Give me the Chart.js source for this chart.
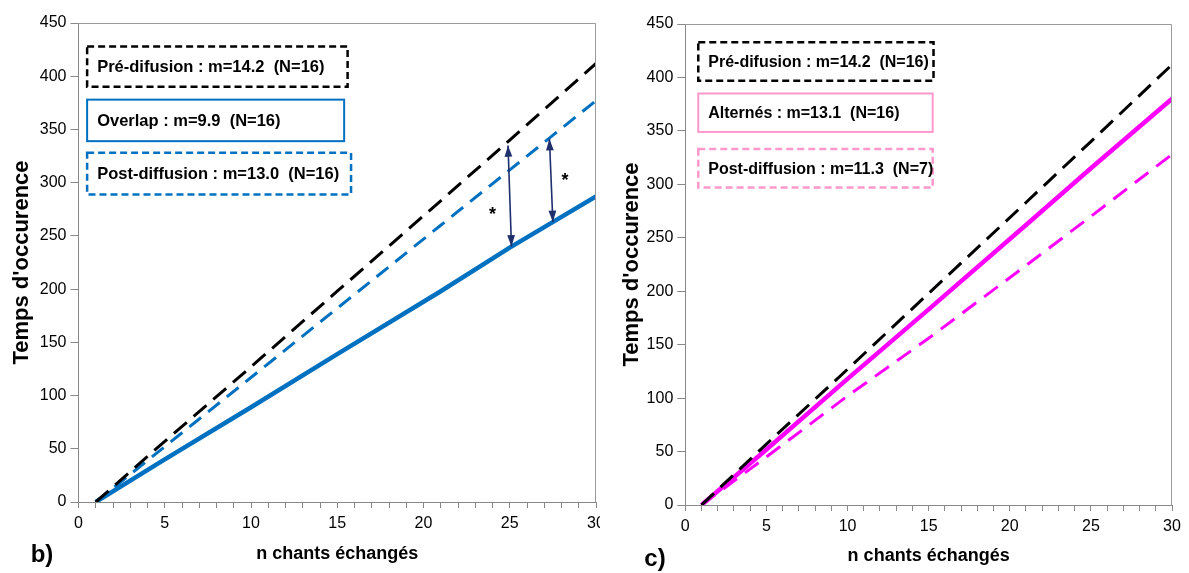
<!DOCTYPE html>
<html>
<head>
<meta charset="utf-8" />
<title>Temps d'occurence</title>
<script src="https://cdn.jsdelivr.net/npm/chart.js/dist/chart.umd.js"></script>
<style>
    body { margin: 0; background: #fff; }
    .panel { position: absolute; top: 0; height: 573px; }
    #left { left: 0; width: 600px; }
    #right { left: 600px; width: 589px; }
</style>
</head>
<body>
<div id="left" class="panel"><canvas id="chartB"></canvas></div>
<div id="right" class="panel"><canvas id="chartC"></canvas></div>
<script>
// values
var nLeft = [1, 5, 10, 15, 21, 25, 30];
var preLeft = [0, 57, 127, 198, 283, 340, 412];
var postLeft = [0, 52, 117, 182, 260, 312, 377];
var overlapLeft = [0, 40, 89, 139, 198, 239, 287];

var nRight = [1, 5, 10, 15, 21, 25, 30];
var preRight = [0, 57, 127, 198, 283, 340, 412];
var alternesRight = [0, 52, 118, 183, 262, 315, 380];
var postRight = [0, 45, 102, 156, 224, 270, 328];

var yTicks = [0, 50, 100, 150, 200, 250, 300, 350, 400, 450];
var xLabels = [0, 5, 10, 15, 20, 25, 30];

function pts(xs, ys) {
    return xs.map(function (x, i) { return { x: x, y: ys[i] }; });
}

var BLUE = '#0070C0', MAGENTA = '#FF00FF', PINK = '#FF99CC', NAVY = '#1F2F6E';

// boxes, arrows and panel letter drawn over the plot
var decor = {
    id: 'decor',
    afterDraw: function (chart, args, o) {
        var ctx = chart.ctx, a = chart.chartArea;
        var xs = chart.scales.x, ys = chart.scales.y;
        ctx.save();
        ctx.strokeStyle = '#9a9a9a';
        ctx.lineWidth = 1;
        ctx.beginPath();
        ctx.moveTo(a.left, a.top + 0.5);
        ctx.lineTo(a.right - 0.5, a.top + 0.5);
        ctx.lineTo(a.right - 0.5, a.bottom);
        ctx.stroke();

        o.boxes.forEach(function (b) {
            var x1 = xs.getPixelForValue(b.x0), x2 = xs.getPixelForValue(b.x1);
            var y1 = ys.getPixelForValue(b.y1), y2 = ys.getPixelForValue(b.y0);
            ctx.fillStyle = '#fff';
            ctx.fillRect(x1, y1, x2 - x1, y2 - y1);
            ctx.strokeStyle = b.color;
            ctx.lineWidth = b.dash ? 2.5 : 2;
            ctx.setLineDash(b.dash ? [7, 4] : []);
            ctx.strokeRect(x1, y1, x2 - x1, y2 - y1);
            ctx.setLineDash([]);
            ctx.fillStyle = '#000';
            ctx.font = 'bold ' + o.boxFont + 'px "Liberation Sans", Arial, sans-serif';
            ctx.textBaseline = 'middle';
            ctx.textAlign = 'left';
            ctx.fillText(b.text, x1 + o.textInset, (y1 + y2) / 2 + 1);
        });

        (o.arrows || []).forEach(function (ar) {
            var px1 = xs.getPixelForValue(ar[0]), py1 = ys.getPixelForValue(ar[1]);
            var px2 = xs.getPixelForValue(ar[2]), py2 = ys.getPixelForValue(ar[3]);
            ctx.strokeStyle = NAVY;
            ctx.fillStyle = NAVY;
            ctx.lineWidth = 1.6;
            ctx.beginPath();
            ctx.moveTo(px1, py1);
            ctx.lineTo(px2, py2);
            ctx.stroke();
            [[px1, py1, px2, py2], [px2, py2, px1, py1]].forEach(function (p) {
                var ang = Math.atan2(p[1] - p[3], p[0] - p[2]);
                ctx.beginPath();
                ctx.moveTo(p[0], p[1]);
                ctx.lineTo(p[0] - 12 * Math.cos(ang - 0.33), p[1] - 12 * Math.sin(ang - 0.33));
                ctx.lineTo(p[0] - 12 * Math.cos(ang + 0.33), p[1] - 12 * Math.sin(ang + 0.33));
                ctx.closePath();
                ctx.fill();
            });
        });

        ctx.fillStyle = '#000';
        ctx.font = 'bold 18px "Liberation Sans", Arial, sans-serif';
        ctx.textAlign = 'center';
        ctx.textBaseline = 'middle';
        (o.stars || []).forEach(function (s) {
            ctx.fillText('*', xs.getPixelForValue(s[0]), ys.getPixelForValue(s[1]));
        });

        ctx.font = 'bold 24px "Liberation Sans", Arial, sans-serif';
        ctx.fillText(o.letter, o.letterX, o.letterY);
        ctx.restore();
    }
};

function makeChart(id, datasets, L) {
    return new Chart(document.getElementById(id), {
        type: 'line',
        data: { datasets: datasets },
        plugins: [decor],
        options: {
            responsive: true,
            maintainAspectRatio: false,
            animation: false,
            layout: { padding: { top: L.top, right: L.right, left: 0, bottom: 0 } },
            elements: { point: { radius: 0 }, line: { tension: 0 } },
            plugins: {
                legend: { display: false },
                tooltip: { enabled: false },
                decor: L.decor
            },
            scales: {
                x: {
                    type: 'linear', min: 0, max: 30,
                    afterFit: function (s) { s.height = L.xHeight; s.paddingLeft = 0; s.paddingRight = 0; },
                    ticks: {
                        stepSize: 1, autoSkip: false, maxRotation: 0, padding: 6,
                        color: '#000', font: { size: 16, family: '"Liberation Sans", Arial' },
                        callback: function (v) { return xLabels.indexOf(v) >= 0 ? String(v) : ''; }
                    },
                    grid: { drawOnChartArea: false, tickLength: 6, color: '#888' },
                    border: { color: '#888' },
                    title: {
                        display: true, text: 'n chants échangés', color: '#000',
                        font: { size: 18, weight: 'bold', family: '"Liberation Sans", Arial' },
                        padding: { top: 0, bottom: L.xTitlePad }
                    }
                },
                y: {
                    min: 0, max: 450,
                    afterFit: function (s) { s.width = L.yWidth; s.paddingTop = 0; s.paddingBottom = 0; },
                    afterBuildTicks: function (s) { s.ticks = yTicks.map(function (v) { return { value: v }; }); },
                    ticks: {
                        padding: 4, color: '#000', font: { size: 16, family: '"Liberation Sans", Arial' }
                    },
                    grid: { drawOnChartArea: false, tickLength: 8, color: '#888' },
                    border: { color: '#888' },
                    title: {
                        display: true, text: "Temps d'occurence", color: '#000',
                        font: { size: 22, weight: 'bold', family: '"Liberation Sans", Arial' },
                        padding: { top: L.yTitlePad, bottom: 0 }
                    }
                }
            }
        }
    });
}

makeChart('chartB', [
    { data: pts(nLeft, preLeft), borderColor: '#000', borderWidth: 3, borderDash: [17, 9] },
    { data: pts(nLeft, postLeft), borderColor: BLUE, borderWidth: 3, borderDash: [15, 9] },
    { data: pts(nLeft, overlapLeft), borderColor: BLUE, borderWidth: 4.5 }
], {
    top: 23, right: 4, yWidth: 78.5, xHeight: 71, xTitlePad: 8, yTitlePad: 9,
    decor: {
        boxFont: 16.5, textInset: 10, letter: 'b)', letterX: 42, letterY: 555,
        boxes: [
            { x0: 0.5, x1: 15.6, y0: 390, y1: 428, color: '#000', dash: true, text: 'Pré-difusion : m=14.2  (N=16)' },
            { x0: 0.5, x1: 15.4, y0: 339, y1: 378, color: BLUE, dash: false, text: 'Overlap : m=9.9  (N=16)' },
            { x0: 0.5, x1: 15.8, y0: 289, y1: 328, color: BLUE, dash: true, text: 'Post-diffusion : m=13.0  (N=16)' }
        ],
        arrows: [[24.9, 335, 25.1, 240], [27.3, 341, 27.5, 263]],
        stars: [[24.0, 270], [28.2, 302]]
    }
});

makeChart('chartC', [
    { data: pts(nRight, preRight), borderColor: '#000', borderWidth: 3, borderDash: [17, 9] },
    { data: pts(nRight, postRight), borderColor: MAGENTA, borderWidth: 3, borderDash: [17, 10] },
    { data: pts(nRight, alternesRight), borderColor: MAGENTA, borderWidth: 4.5 }
], {
    top: 24, right: 17, yWidth: 85.3, xHeight: 68, xTitlePad: 6, yTitlePad: 19,
    decor: {
        boxFont: 16, textInset: 10, letter: 'c)', letterX: 55, letterY: 559,
        boxes: [
            { x0: 0.8, x1: 15.3, y0: 397, y1: 433, color: '#000', dash: true, text: 'Pré-difusion : m=14.2  (N=16)' },
            { x0: 0.8, x1: 15.25, y0: 349, y1: 385, color: PINK, dash: false, text: 'Alternés : m=13.1  (N=16)' },
            { x0: 0.8, x1: 15.25, y0: 297, y1: 333, color: PINK, dash: true, text: 'Post-diffusion : m=11.3  (N=7)' }
        ]
    }
});
</script>
</body>
</html>
